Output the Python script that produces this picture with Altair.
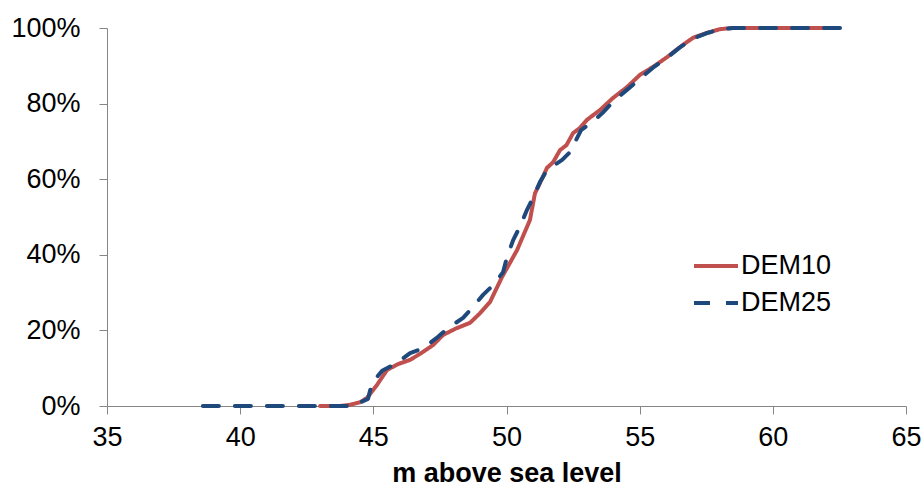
import altair as alt
import pandas as pd

dem10_x = [43.0, 43.75, 44.12, 44.5, 44.76, 45.14, 45.51, 45.9, 46.38, 46.8, 47.24, 47.62, 48.1, 48.63,
           49.0, 49.38, 49.83, 50.1, 50.4, 50.88, 51.07, 51.26, 51.52, 51.75, 52.01, 52.25, 52.5, 52.75,
           53.02, 53.51, 54.0, 54.53, 55.01, 55.5, 56.03, 56.52, 57.0, 57.53, 58.02, 58.5, 59.0, 60.0,
           61.0, 62.0]
dem10_y = [0, 0, 0.3, 1.0, 2.1, 5.6, 9.5, 11.0, 12.2, 14.0, 16.1, 18.8, 20.5, 22.0,
           24.5, 27.5, 34.1, 37.5, 41.3, 49.2, 56.3, 59.0, 63.0, 64.5, 67.7, 69.0, 72.2, 73.5,
           75.7, 78.3, 81.5, 84.4, 87.6, 89.7, 92.3, 95.0, 97.4, 98.7, 99.7, 100, 100, 100,
           100, 100]

dem25_x = [38.6, 40.0, 41.0, 42.0, 43.0, 44.2, 44.8, 44.95, 45.33, 45.89, 46.38, 46.87, 47.43, 47.8,
           48.37, 48.74, 49.12, 49.5, 49.87, 50.02, 50.25, 50.5, 50.77, 50.99, 51.26, 51.52, 52.09,
           52.39, 52.8, 53.2, 53.6, 54.0, 54.5, 55.0, 55.5, 56.0, 56.5, 57.0, 57.5, 58.0, 58.5, 59.0,
           60.0, 61.0, 62.0, 62.8]
dem25_y = [0, 0, 0, 0, 0, 0, 1.9, 6.1, 9.3, 11.4, 14.0, 15.3, 18.3, 20.6,
           23.3, 26.2, 29.4, 32.0, 35.4, 39.4, 43.9, 47.4, 51.9, 55.0, 59.3, 62.4, 65.1,
           67.2, 73.0, 75.0, 77.5, 80.5, 83.5, 86.5, 89.5, 92.0, 94.8, 97.2, 98.6, 99.6, 100, 100,
           100, 100, 100, 100]

series = ["DEM10", "DEM25"]
colors = ["#C0504D", "#1F497D"]

rows = []
for i, (x, y) in enumerate(zip(dem10_x, dem10_y)):
    rows.append({"series": "DEM10", "elev": x, "share": y / 100, "i": i})
for i, (x, y) in enumerate(zip(dem25_x, dem25_y)):
    rows.append({"series": "DEM25", "elev": x, "share": y / 100, "i": i})
df = pd.DataFrame(rows)

FONT = "Liberation Sans"
FS = 27

chart = alt.Chart(df).mark_line(strokeWidth=4, strokeCap="round", strokeJoin="round").encode(
    x=alt.X("elev:Q", scale=alt.Scale(domain=[35, 65], nice=False, zero=False),
            axis=alt.Axis(values=[35, 40, 45, 50, 55, 60, 65], title="m above sea level",
                          grid=False, tickSize=8, labelPadding=10, titlePadding=10,
                          labelFontSize=FS, titleFontSize=FS, titleFontWeight="bold",
                          labelFont=FONT, titleFont=FONT, labelColor="#000", titleColor="#000",
                          domainColor="#868686", tickColor="#868686", labelFlush=False)),
    y=alt.Y("share:Q", scale=alt.Scale(domain=[0, 1], nice=False),
            axis=alt.Axis(values=[0, 0.2, 0.4, 0.6, 0.8, 1.0], format=".0%", title=None,
                          grid=False, tickSize=8, labelPadding=19,
                          labelFontSize=FS, labelFont=FONT, labelColor="#000",
                          domainColor="#868686", tickColor="#868686", labelFlush=False)),
    color=alt.Color("series:N", scale=alt.Scale(domain=series, range=colors),
                    legend=alt.Legend(title=None, orient="none", legendX=585, legendY=214,
                                      symbolType="stroke", symbolSize=1936, symbolStrokeWidth=4,
                                      labelFontSize=FS, labelFont=FONT, labelColor="#000",
                                      labelOffset=1, rowPadding=-4, padding=0)),
    strokeDash=alt.StrokeDash("series:N", scale=alt.Scale(domain=series, range=[[1, 0], [16, 16]]),
                              legend=None),
    order="i:Q",
).properties(
    width=799, height=378,
    autosize=alt.AutoSizeParams(type="none"),
    padding={"left": 107, "top": 28, "right": 18, "bottom": 82},
).configure_view(stroke=None)

chart.save("out.html", embed_options={"renderer": "svg", "actions": False})
